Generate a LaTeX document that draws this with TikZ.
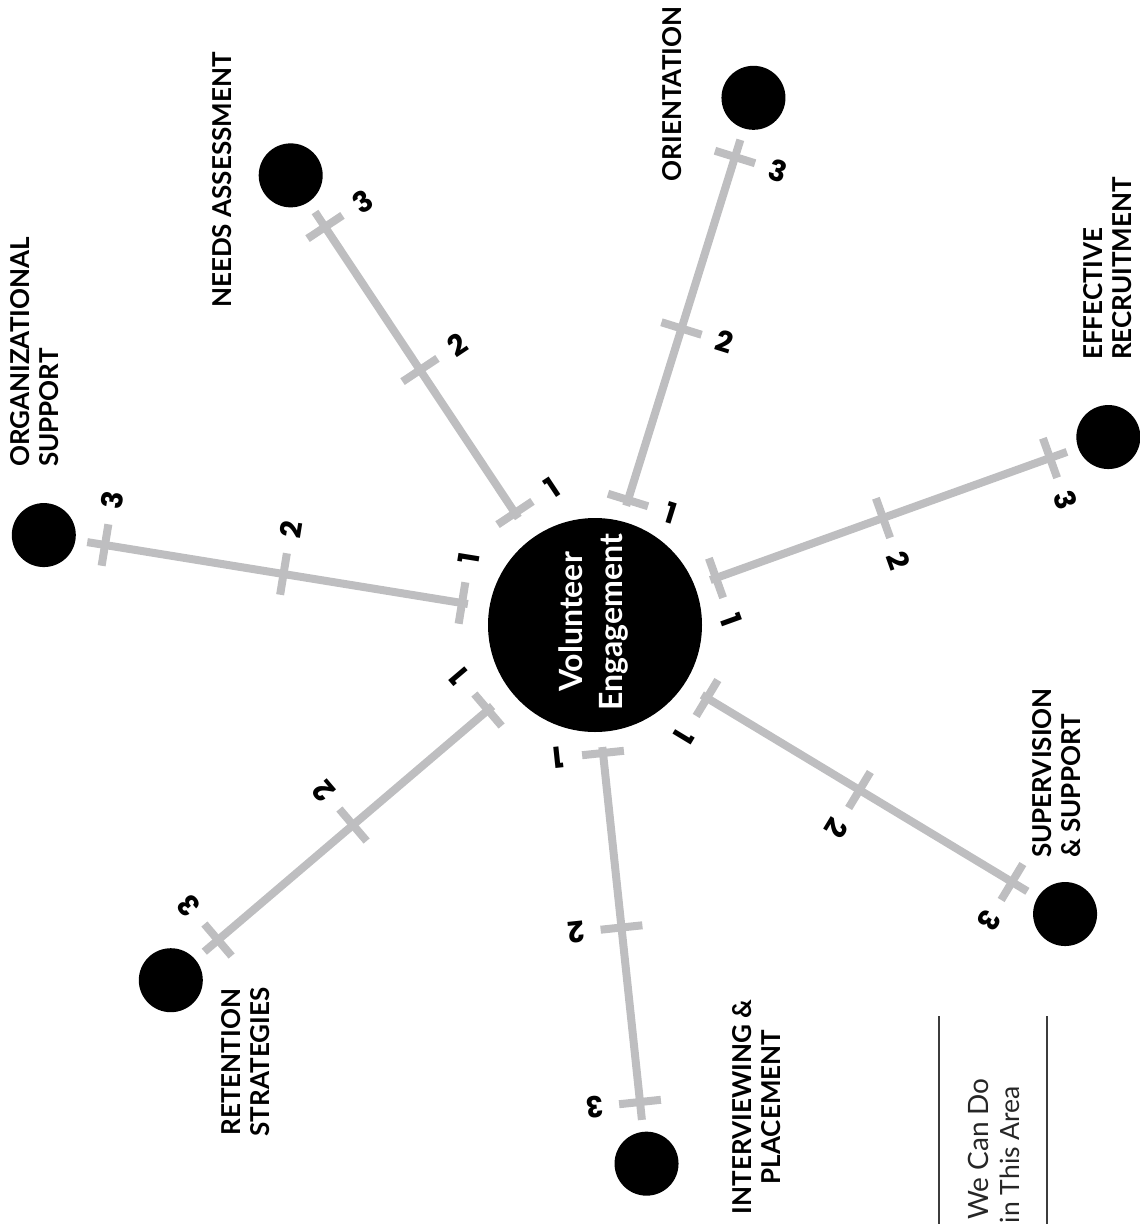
\documentclass[tikz,border=0pt]{standalone}
\usepackage{fontspec}
\setmainfont{Lato}
\newfontfamily\numfont{Poppins}
\usetikzlibrary{calc}
\definecolor{spokegray}{RGB}{190,190,192}
\definecolor{legendline}{RGB}{60,60,60}
\begin{document}
\begin{tikzpicture}[x=1pt,y=-1pt,
  spoke/.style={draw=spokegray,line width=8pt},
  hub/.style={circle,fill=black,minimum size=64pt,inner sep=0pt},
  numlab/.style={font=\numfont\fontsize{29}{29}\selectfont\bfseries,inner sep=0pt},
  lab/.style={font=\fontsize{26}{29}\selectfont\bfseries,rotate=90,inner sep=0pt},
  legendtext/.style={rotate=90,inner sep=0pt,anchor=east,text=black!85}
]
\useasboundingbox (0,0) rectangle (1140,1224);
\clip (0,0) rectangle (1140,1224);

\node[circle,fill=black,minimum size=214pt,inner sep=0pt] (center) at (595,625) {};
\node[rotate=90,text=white,align=center,inner sep=0pt,
      font=\fontsize{32}{40}\selectfont\bfseries] (centertext) at (593,622) {Volunteer\\Engagement};

\foreach \nm/\ax/\ay/\bx/\by/\r in {
  ori/628/500/735/157/-17.3,
  need/515/513/325/227/33.6,
  org/462/603/105/545/80.8,
  eff/716/578/1050/458/-70.2,
  sup/707/698/1012/882/-121.1,
  int/603/753/640/1102/-174,
  ret/488/710/218/940/130.4}{
  \coordinate (\nm-t1) at (\ax,\ay);
  \coordinate (\nm-t3) at (\bx,\by);
  \coordinate (\nm-t2) at ($(\nm-t1)!0.5!(\nm-t3)$);
  \node[hub] (\nm) at ($(\nm-t3)!-62pt!(\nm-t1)$) {};
  \draw[spoke] ($(\nm-t1)!-6pt!(\nm-t3)$) -- ($(\nm-t3)!-18pt!(\nm-t1)$);
  \foreach \k in {1,2,3}{
    \draw[spoke] ($(\nm-t\k)!21pt!90:(\nm)$) -- ($(\nm-t\k)!21pt!-90:(\nm)$);
    \node[numlab,rotate=\r] (\nm-l\k) at ($(\nm-t\k)!45pt!-90:(\nm)$) {\k};
  }
}

\node[lab] (l-ori) at (672,94) {ORIENTATION};
\node[lab] (l-need) at (222,180) {NEEDS ASSESSMENT};
\node[lab,align=left,anchor=west] (l-org) at (35,467) {ORGANIZATIONAL\\SUPPORT};
\node[lab,align=left,anchor=west] (l-eff) at (1108,360) {EFFECTIVE\\RECRUITMENT};
\node[lab,align=left,anchor=west] (l-sup) at (1057,858) {SUPERVISION\\\& SUPPORT};
\node[lab,align=center] (l-int) at (757,1107) {INTERVIEWING \&\\PLACEMENT};
\node[lab,align=center] (l-ret) at (246,1062) {RETENTION\\STRATEGIES};

\draw[legendline,line width=1.5pt] (939,1016) -- (939,1230);
\draw[legendline,line width=1.5pt] (1047,1016) -- (1047,1230);
\node[legendtext,font=\fontsize{28}{28}\selectfont] (leg1) at (978,1078) {s We Can Do};
\node[legendtext,font=\fontsize{26.5}{26.5}\selectfont] (leg2) at (1010,1086) {in This Area};
\end{tikzpicture}
\end{document}
